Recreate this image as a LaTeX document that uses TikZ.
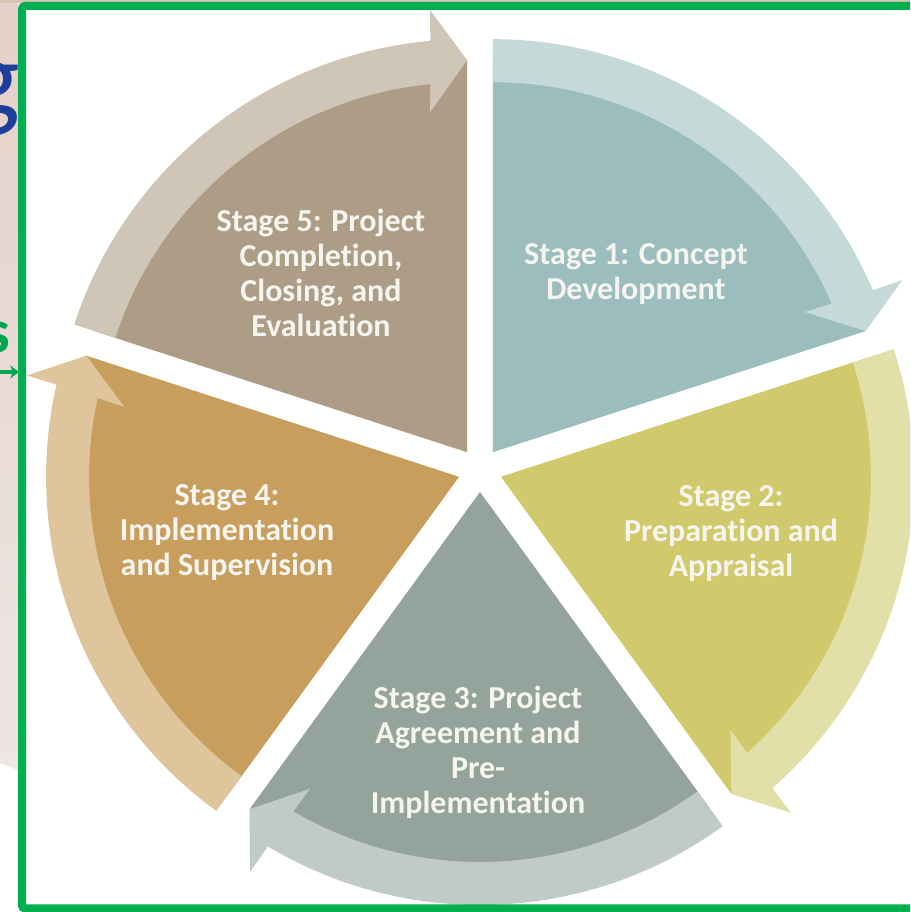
\documentclass[tikz,border=0pt]{standalone}
\usepackage{fontspec}
\setmainfont{Carlito}[RawFeature=-liga]
\newfontfamily\gfont{Carlito}
\usetikzlibrary{arrows.meta}
\definecolor{wedgeA}{HTML}{9CBDBD}
\definecolor{bandA}{HTML}{C4D9D8}
\definecolor{wedgeB}{HTML}{D1CA6C}
\definecolor{bandB}{HTML}{E3DFA8}
\definecolor{wedgeC}{HTML}{94A49D}
\definecolor{bandC}{HTML}{C0CAC6}
\definecolor{wedgeD}{HTML}{C89E5D}
\definecolor{bandD}{HTML}{DEC59C}
\definecolor{wedgeE}{HTML}{AD9D87}
\definecolor{bandE}{HTML}{D0C6B8}
\definecolor{stagewhite}{HTML}{F6F4EF}
\definecolor{bordergreen}{HTML}{00B050}
\definecolor{sgreen}{HTML}{00A650}
\definecolor{gblue}{HTML}{1C3F9C}
\definecolor{backtop}{HTML}{E4D0C8}
\definecolor{backlow}{HTML}{EEE6E4}
\definecolor{stripbeige}{HTML}{D6C5B3}

\begin{document}
\begin{tikzpicture}[x=1pt,y=1pt,
  stagetext/.style={text=stagewhite, font=\bfseries\fontsize{32}{35}\selectfont, align=center, inner sep=0pt}]
\useasboundingbox (0,0) rectangle (910,912);
\clip (0,0) rectangle (910,912);
\fill[white] (0,0) rectangle (910,912);
% slide behind the frame
\shade[top color=backtop, bottom color=backlow] (0,912) -- (18,912) -- (18,142) -- (0,149) -- cycle;
\fill[stripbeige] (0,909) rectangle (910,912);
\node[text=gblue, font=\gfont\fontsize{112}{112}\selectfont, anchor=base east, inner sep=0pt] (gtxt) at (20,795) {g};
\node[text=sgreen, font=\bfseries\fontsize{62}{62}\selectfont, anchor=base east, inner sep=0pt] (stxt) at (10,559) {s};
\coordinate (sTail) at (-5,540);
\coordinate (sHead) at (19,540);
\draw[sgreen, line width=3.5pt, -{Stealth[length=9pt,width=13pt]}] (sTail) -- (sHead);

% pie with curved arrows
\begin{scope}[shift={(480,442)}]
\foreach \a/\wc/\bc in {90/wedgeA/bandA, 18/wedgeB/bandB, -54/wedgeC/bandC, 234/wedgeD/bandD, 162/wedgeE/bandE} {
  \pgfmathsetmacro\e{\a-72}
  \begin{scope}[shift={(\a-36:22)}]
    \fill[\wc] (0,0) -- (\a:392) arc[start angle=\a, end angle=\e, radius=392] -- cycle;
    \fill[\bc] (\a:413) arc[start angle=\a, end angle=\e+5.1, radius=413] -- (\e+4.8:444) -- (\e:392) -- (\e+6.2:342) -- (\e+5.7:370) arc[start angle=\e+5.7, end angle=\a, radius=370] -- cycle;
  \end{scope}
}
\end{scope}

\node[stagetext] (st1) at (636,638) {Stage 1: Concept\\Development};
\node[stagetext] (st2) at (731,378) {Stage 2:\\Preparation and\\Appraisal};
\node[stagetext] (st3) at (478,160) {Stage 3: Project\\Agreement and\\Pre-\\Implementation};
\node[stagetext] (st4) at (227,379) {Stage 4:\\Implementation\\and Supervision};
\node[stagetext] (st5) at (321,639) {Stage 5: Project\\Completion,\\Closing, and\\Evaluation};

% frame
\draw[bordergreen, line width=8pt, rounded corners=3pt] (22,906) rectangle (915,3.5);
\end{tikzpicture}
\end{document}
